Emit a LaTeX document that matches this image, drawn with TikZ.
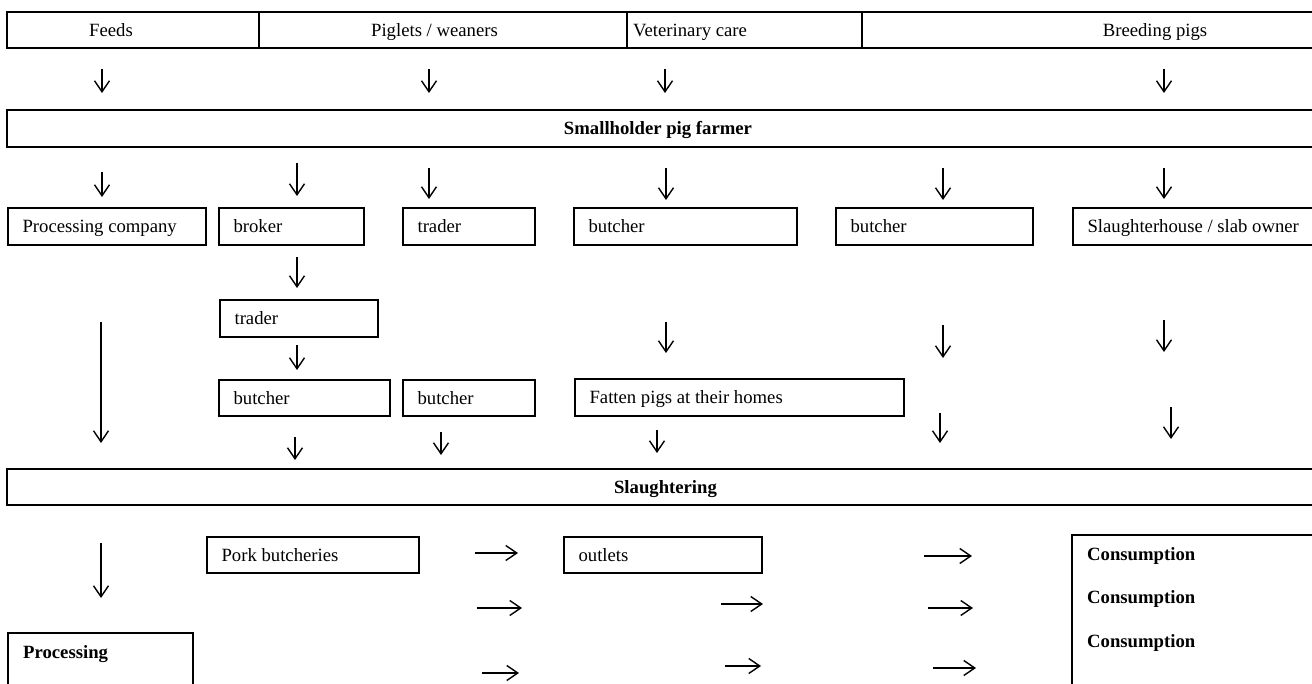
\documentclass[tikz,border=0pt]{standalone}
\usepackage{fontspec}
\setmainfont{Liberation Serif}
\usetikzlibrary{arrows.meta,fit}
\newcommand\mkbox[5]{\node[box,fit={(#2,#3) (#4,#5)}] (#1) {};}
\newcommand\inlbl[2]{\node[lbl,anchor=base west] (#1t) at ([xshift=15pt,yshift=-6.5pt]#1.west) {#2};}
\newcommand\varw[4]{\coordinate (#1s) at (#2,#3); \coordinate (#1e) at (#2,#4); \draw[arr] (#1s) -- (#1e);}
\newcommand\harw[4]{\coordinate (#1s) at (#2,#4); \coordinate (#1e) at (#3,#4); \draw[arr] (#1s) -- (#1e);}
\begin{document}
\begin{tikzpicture}[x=1pt,y=-1pt,
  box/.style={draw,line width=1.3pt,inner sep=0pt},
  lbl/.style={inner sep=0pt,font=\fontsize{18.7}{22}\selectfont},
  arr/.style={line width=1.4pt,-{Straight Barb[length=11pt,width=15pt]}}]
\useasboundingbox (0,0) rectangle (1312,684);
% top row
\mkbox{feeds}{7}{12}{259}{48}
\mkbox{piglets}{259}{12}{627}{48}
\mkbox{vet}{627}{12}{862}{48}
\mkbox{breed}{862}{12}{1322}{48}
\node[lbl,anchor=base] (feedst) at (111,36.5) {Feeds};
\node[lbl,anchor=base] (pigletst) at (434.5,36.5) {Piglets / weaners};
\node[lbl,anchor=base west] (vett) at (633,36.5) {Veterinary care};
\node[lbl,anchor=base] (breedt) at (1155,36.5) {Breeding pigs};
\varw{a1}{102}{69}{93}
\varw{a2}{429}{69}{93}
\varw{a3}{665}{69}{93}
\varw{a4}{1164}{69}{93}
% smallholder
\mkbox{farmer}{7}{110}{1322}{147}
\node[lbl,anchor=base] (farmert) at (658,135) {\textbf{Smallholder pig farmer}};
\varw{b1}{102}{172}{197}
\varw{b2}{297}{163}{196}
\varw{b3}{429}{168}{199}
\varw{b4}{666}{168}{200}
\varw{b5}{943}{168}{200}
\varw{b6}{1164}{168}{199}
% second row of boxes
\mkbox{proc}{8}{208}{206}{245}
\mkbox{broker}{219}{208}{364}{245}
\mkbox{trader}{403}{208}{535}{245}
\mkbox{butchA}{574}{208}{797}{245}
\mkbox{butchB}{836}{208}{1033}{245}
\mkbox{slab}{1073}{208}{1322}{245}
\inlbl{proc}{Processing company}
\inlbl{broker}{broker}
\inlbl{trader}{trader}
\inlbl{butchA}{butcher}
\inlbl{butchB}{butcher}
\inlbl{slab}{Slaughterhouse / slab owner}
\varw{c1}{297}{257}{288}
\mkbox{traderB}{220}{300}{378}{337}
\inlbl{traderB}{trader}
\varw{c2}{101}{322}{443}
\varw{c3}{666}{322}{353}
\varw{c4}{943}{325}{358}
\varw{c5}{1164}{320}{352}
\varw{c6}{297}{345}{370}
% third row
\mkbox{butchC}{219}{380}{390}{416}
\mkbox{butchD}{403}{380}{535}{416}
\mkbox{fatten}{575}{379}{904}{416}
\inlbl{butchC}{butcher}
\inlbl{butchD}{butcher}
\inlbl{fatten}{Fatten pigs at their homes}
\varw{d1}{940}{413}{443}
\varw{d2}{1171}{407}{439}
\varw{d3}{295}{437}{460}
\varw{d4}{441}{432}{455}
\varw{d5}{657}{430}{453}
% slaughtering
\mkbox{slaught}{7}{469}{1322}{505}
\node[lbl,anchor=base] (slaughtt) at (665.5,493.5) {\textbf{Slaughtering}};
% bottom
\varw{e1}{101}{543}{598}
\mkbox{pork}{207}{537}{419}{573}
\mkbox{outlets}{564}{537}{762}{573}
\inlbl{pork}{Pork butcheries}
\inlbl{outlets}{outlets}
\harw{f1}{475}{518}{553}
\harw{f2}{477}{522}{608}
\harw{f3}{482}{519}{673}
\harw{g1}{721}{763}{604}
\harw{g2}{725}{761}{666}
\harw{h1}{924}{972}{556}
\harw{h2}{928}{973}{608}
\harw{h3}{933}{976}{668}
\mkbox{cons}{1072}{535}{1322}{700}
\node[lbl,anchor=base west] (cons1) at (1087,560.5) {\textbf{Consumption}};
\node[lbl,anchor=base west] (cons2) at (1087,603.5) {\textbf{Consumption}};
\node[lbl,anchor=base west] (cons3) at (1087,647.5) {\textbf{Consumption}};
\mkbox{procB}{8}{633}{193}{700}
\node[lbl,anchor=base west] (procBt) at (23,658.5) {\textbf{Processing}};
\end{tikzpicture}
\end{document}
